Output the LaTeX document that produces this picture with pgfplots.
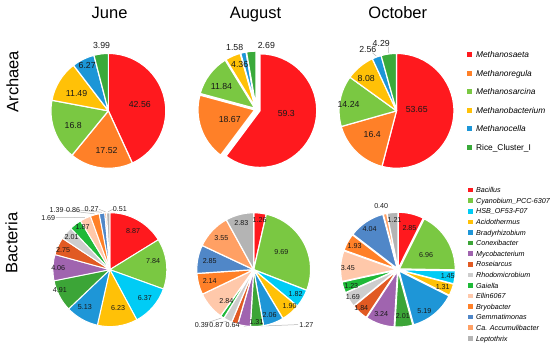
\documentclass[border=0pt]{standalone}
\usepackage{pgfplots}
\usepackage{pgfplotstable}
\pgfplotsset{compat=1.18}
\usepackage{fontspec}
\setmainfont{Liberation Sans}

\definecolor{cA1}{RGB}{255,25,30}
\definecolor{cA2}{RGB}{255,128,40}
\definecolor{cA3}{RGB}{122,200,66}
\definecolor{cA4}{RGB}{255,193,7}
\definecolor{cA5}{RGB}{28,150,215}
\definecolor{cA6}{RGB}{58,170,58}
\definecolor{cB1}{RGB}{255,25,30}
\definecolor{cB2}{RGB}{122,200,66}
\definecolor{cB3}{RGB}{0,204,245}
\definecolor{cB4}{RGB}{255,193,7}
\definecolor{cB5}{RGB}{30,150,215}
\definecolor{cB6}{RGB}{60,165,55}
\definecolor{cB7}{RGB}{160,100,175}
\definecolor{cB8}{RGB}{225,90,35}
\definecolor{cB9}{RGB}{205,205,205}
\definecolor{cB10}{RGB}{30,185,55}
\definecolor{cB11}{RGB}{255,200,170}
\definecolor{cB12}{RGB}{255,128,40}
\definecolor{cB13}{RGB}{80,135,200}
\definecolor{cB14}{RGB}{255,160,100}
\definecolor{cB15}{RGB}{180,180,180}

% v = value, col = colour, lx/ly = label offset from centre (px, y up),
% ln = leader line, ax/ay = line end, ex = explode
\pgfplotstableread{
v     col  lx     ly    ln ax    ay   ex
42.56 cA1  31.5   6     0  0     0    0
17.52 cA2  -1.8   -39.7 0  0     0    0
16.8  cA3  -35.2  -15   0  0     0    0
11.49 cA4  -31.8  17.7  0  0     0    0
6.27  cA5  -21.2  45.3  0  0     0    0
3.99  cA6  -6.8   65.3  0  0     0    0
}\juneA
\pgfplotstableread{
v     col  lx     ly    ln ax    ay   ex
59.3  cA1  30.2   -4.5  0  0     0    4
18.67 cA2  -26.5  -9.8  0  0     0    1.5
11.84 cA3  -34.8  22.8  0  0     0    1.5
4.36  cA4  -16.5  44.5  0  0     0    1.5
1.58  cA5  -21.5  62.2  0  0     0    1.5
2.69  cA6  10.2   63.5  0  0     0    1.5
}\augA
\pgfplotstableread{
v     col  lx     ly    ln ax    ay   ex
53.65 cA1  20.3   1     0  0     0    0
16.4  cA2  -24.3  -24   0  0     0    0
14.24 cA3  -48    6     0  0     0    0
8.08  cA4  -30.3  32.7  0  0     0    0
2.56  cA5  -28.7  61    1  -24   58   0
4.29  cA6  -15.3  67.7  1  -8    64   0
}\octA
\pgfplotstableread{
v     col  lx     ly    ln ax    ay   ex
8.87  cB1  23.3   38.3  0  0     0    0
7.84  cB2  43.3   8.3   0  0     0    0
6.37  cB3  35     -28.3 0  0     0    0
6.23  cB4  8.3    -38.3 0  0     0    0
5.13  cB5  -25    -37.3 0  0     0    0
4.91  cB6  -50    -20   0  0     0    0
4.06  cB7  -51.7  1.7   0  0     0    0
2.75  cB8  -46.7  20    0  0     0    0
2.01  cB9  -38.3  32.7  0  0     0    0
1.87  cB10 -27.3  42.7  0  0     0    0
1.69  cB11 -61.7  51.7  1  -54   52   0
1.39  cB12 -53.3  59.3  1  -46   59.5 0
0.86  cB13 -36.7  59.3  1  -29.5 59.5 0
0.27  cB14 -18.3  60.7  1  -11   60.5 0
0.51  cB15 10     60.7  1  3     60.5 0
}\juneB
\pgfplotstableread{
v     col  lx     ly    ln ax    ay   ex
1.26  cB1  6      50    0  0     0    0
9.69  cB2  27.7   17.3  0  0     0    0
1.82  cB3  42     -24   0  0     0    0
1.90  cB4  36     -36   0  0     0    0
2.06  cB5  16     -45.7 0  0     0    0
1.31  cB6  2.7    -52.7 0  0     0    0
1.27  cB7  52.7   -55.7 1  44.5  -55  0
0.64  cB8  -21    -55.7 0  0     0    0
0.87  cB9  -37.3  -55.7 1  -33   -53  0
0.39  cB10 -52    -55.7 1  -46   -53  0
2.84  cB11 -27.3  -31.7 0  0     0    0
2.14  cB12 -44    -11.7 0  0     0    0
2.85  cB13 -44    8.3   0  0     0    0
3.55  cB14 -32.3  31.7  0  0     0    0
2.83  cB15 -12.3  46.7  0  0     0    0
}\augB
\pgfplotstableread{
v     col  lx     ly    ln ax    ay   ex
2.85  cB1  11.5   41.7  0  0     0    1.5
6.96  cB2  28.2   15    0  0     0    1.5
1.45  cB3  49.8   -6    0  0     0    1.5
1.31  cB4  44.8   -17.3 0  0     0    1.5
5.19  cB5  26.5   -41.7 0  0     0    1.5
2.01  cB6  4.8    -46.7 0  0     0    1.5
3.24  cB7  -16.8  -44   0  0     0    1.5
1.84  cB8  -36.8  -38.3 0  0     0    1.5
1.69  cB9  -45.2  -27.3 0  0     0    1.5
1.23  cB10 -46.8  -16   0  0     0    1.5
3.45  cB11 -50.2  1.7   0  0     0    1.5
1.93  cB12 -43.5  23.3  0  0     0    1.5
4.04  cB13 -28.5  40.7  0  0     0    1.5
0.40  cB14 -16.8  63.3  0  0     0    1.5
1.21  cB15 -3.5   50    0  0     0    1.5
}\octB

\newcommand{\drawpie}[6]{%
  % #1 table, #2 cx, #3 cy (px from top), #4 radius, #5 label font size, #6 border width
  \pgfplotstablegetrowsof{#1}%
  \pgfmathtruncatemacro\pielast{\pgfplotsretval-1}%
  \gdef\pietotal{0}%
  \foreach \i in {0,...,\pielast}{%
    \pgfplotstablegetelem{\i}{v}\of{#1}%
    \pgfmathsetmacro\tmp{\pietotal+\pgfplotsretval}%
    \global\let\pietotal\tmp}%
  \pgfmathsetmacro\pscale{360/\pietotal}%
  \pgfmathsetmacro\pcy{348-#3}%
  % leader lines
  \gdef\piecum{0}%
  \foreach \i in {0,...,\pielast}{%
    \pgfplotstablegetelem{\i}{v}\of{#1}\let\pv\pgfplotsretval
    \pgfplotstablegetelem{\i}{ln}\of{#1}\let\pln\pgfplotsretval
    \pgfplotstablegetelem{\i}{ax}\of{#1}\let\pax\pgfplotsretval
    \pgfplotstablegetelem{\i}{ay}\of{#1}\let\pay\pgfplotsretval
    \pgfmathsetmacro\tm{90-(\piecum+\pv/2)*\pscale}%
    \pgfmathsetmacro\lsx{#2+(#4+1)*cos(\tm)}%
    \pgfmathsetmacro\lsy{\pcy+(#4+1)*sin(\tm)}%
    \pgfmathsetmacro\lex{#2+\pax}%
    \pgfmathsetmacro\ley{\pcy+\pay}%
    \ifnum\pln=1\relax
      \draw[black!30, line width=0.5bp] (axis cs:\lsx,\lsy) -- (axis cs:\lex,\ley);
    \fi
    \pgfmathsetmacro\tmp{\piecum+\pv}\global\let\piecum\tmp}%
  % slices
  \gdef\piecum{0}%
  \foreach \i in {0,...,\pielast}{%
    \pgfplotstablegetelem{\i}{v}\of{#1}\let\pv\pgfplotsretval
    \pgfplotstablegetelem{\i}{col}\of{#1}\let\pc\pgfplotsretval
    \pgfplotstablegetelem{\i}{ex}\of{#1}\let\pex\pgfplotsretval
    \pgfmathsetmacro\ta{90-\piecum*\pscale}%
    \pgfmathsetmacro\tb{90-(\piecum+\pv)*\pscale}%
    \pgfmathsetmacro\tm{(\ta+\tb)/2}%
    \pgfmathsetmacro\ox{#2+\pex*cos(\tm)}%
    \pgfmathsetmacro\oy{\pcy+\pex*sin(\tm)}%
    \pgfmathsetmacro\sx{\ox+#4*cos(\ta)}%
    \pgfmathsetmacro\sy{\oy+#4*sin(\ta)}%
    \filldraw[fill=\pc, draw=white, line width=#6bp, line join=round]
      (axis cs:\ox,\oy) -- (axis cs:\sx,\sy)
      arc[start angle=\ta, end angle=\tb, radius=#4bp] -- cycle;
    \pgfmathsetmacro\tmp{\piecum+\pv}\global\let\piecum\tmp}%
  % labels
  \foreach \i in {0,...,\pielast}{%
    \pgfplotstablegetelem{\i}{v}\of{#1}\let\pv\pgfplotsretval
    \pgfplotstablegetelem{\i}{lx}\of{#1}\let\plx\pgfplotsretval
    \pgfplotstablegetelem{\i}{ly}\of{#1}\let\ply\pgfplotsretval
    \pgfmathsetmacro\nx{#2+\plx}%
    \pgfmathsetmacro\ny{\pcy+\ply}%
    \node[font=\fontsize{#5}{#5}\selectfont, inner sep=0pt, text=black!90] at (axis cs:\nx,\ny) {\pv};
  }%
}

\begin{document}
\begin{tikzpicture}
\begin{axis}[
  scale only axis, width=550bp, height=348bp,
  xmin=0, xmax=550, ymin=0, ymax=348,
  hide axis, clip=false,
]
\path (axis cs:0,0) rectangle (axis cs:550,348);
\pgfplotsextra{%
  \drawpie{\juneA}{108.5}{111}{57.5}{8.8}{1.2}%
  \drawpie{\augA}{256.5}{109.5}{57}{8.8}{1.5}%
  \drawpie{\octA}{397}{111}{57.5}{8.8}{1.2}%
  \drawpie{\juneB}{110}{270}{57}{7.2}{1}%
  \drawpie{\augB}{254}{270}{57}{7.2}{1.2}%
  \drawpie{\octB}{398.5}{270}{56}{7.2}{1.2}%
}
\node[font=\fontsize{16.6}{18}\selectfont, anchor=base] at (axis cs:109.7,329.7) {June};
\node[font=\fontsize{16.6}{18}\selectfont, anchor=base] at (axis cs:255.8,329.7) {August};
\node[font=\fontsize{16.6}{18}\selectfont, anchor=base] at (axis cs:398.3,329.7) {October};
\node[font=\fontsize{16.6}{18}\selectfont, anchor=base, rotate=90] at (axis cs:18.3,266.3) {Archaea};
\node[font=\fontsize{16.6}{18}\selectfont, anchor=base, rotate=90] at (axis cs:17.3,104.7) {Bacteria};
\end{axis}

\begin{axis}[
  scale only axis, width=550bp, height=348bp,
  xmin=0, xmax=550, ymin=0, ymax=348,
  hide axis, clip=false,
  legend style={at={(0.85,0.852)}, anchor=north west, draw=none, fill=none,
    inner sep=0pt, outer sep=0pt, row sep=10bp,
    font=\fontsize{8.4}{8.4}\selectfont,
    cells={anchor=base west},
    nodes={inner sep=0pt, text height=6.5bp, text depth=2bp, anchor=base west}},
  legend image code/.code={\fill[#1] (0bp,0.5bp) rectangle (5bp,5.5bp); \path (9.2bp,0bp);},
]
\addlegendimage{fill=cA1, draw=none}\addlegendentry{\textit{Methanosaeta}}
\addlegendimage{fill=cA2, draw=none}\addlegendentry{\textit{Methanoregula}}
\addlegendimage{fill=cA3, draw=none}\addlegendentry{\textit{Methanosarcina}}
\addlegendimage{fill=cA4, draw=none}\addlegendentry{\textit{Methanobacterium}}
\addlegendimage{fill=cA5, draw=none}\addlegendentry{\textit{Methanocella}}
\addlegendimage{fill=cA6, draw=none}\addlegendentry{Rice\_Cluster\_I}
\end{axis}

\begin{axis}[
  scale only axis, width=550bp, height=348bp,
  xmin=0, xmax=550, ymin=0, ymax=348,
  hide axis, clip=false,
  legend style={at={(0.8523,0.4605)}, anchor=north west, draw=none, fill=none,
    inner sep=0pt, outer sep=0pt, row sep=3.7bp,
    font=\fontsize{7.2}{7.2}\selectfont,
    cells={anchor=base west},
    nodes={inner sep=0pt, text height=5.3bp, text depth=1.6bp, anchor=base west}},
  legend image code/.code={\fill[#1] (0bp,0.4bp) rectangle (4.6bp,5bp); \path (7.95bp,0bp);},
]
\addlegendimage{fill=cB1, draw=none}\addlegendentry{\textit{Bacillus}}
\addlegendimage{fill=cB2, draw=none}\addlegendentry{\textit{Cyanobium\_PCC-6307}}
\addlegendimage{fill=cB3, draw=none}\addlegendentry{\textit{HSB\_OF53-F07}}
\addlegendimage{fill=cB4, draw=none}\addlegendentry{\textit{Acidothermus}}
\addlegendimage{fill=cB5, draw=none}\addlegendentry{\textit{Bradyrhizobium}}
\addlegendimage{fill=cB6, draw=none}\addlegendentry{\textit{Conexibacter}}
\addlegendimage{fill=cB7, draw=none}\addlegendentry{\textit{Mycobacterium}}
\addlegendimage{fill=cB8, draw=none}\addlegendentry{\textit{Roseiarcus}}
\addlegendimage{fill=cB9, draw=none}\addlegendentry{\textit{Rhodomicrobium}}
\addlegendimage{fill=cB10, draw=none}\addlegendentry{\textit{Gaiella}}
\addlegendimage{fill=cB11, draw=none}\addlegendentry{\textit{Ellin6067}}
\addlegendimage{fill=cB12, draw=none}\addlegendentry{\textit{Bryobacter}}
\addlegendimage{fill=cB13, draw=none}\addlegendentry{\textit{Gemmatimonas}}
\addlegendimage{fill=cB14, draw=none}\addlegendentry{\textit{Ca. Accumulibacter}}
\addlegendimage{fill=cB15, draw=none}\addlegendentry{\textit{Leptothrix}}
\end{axis}
\end{tikzpicture}
\end{document}
